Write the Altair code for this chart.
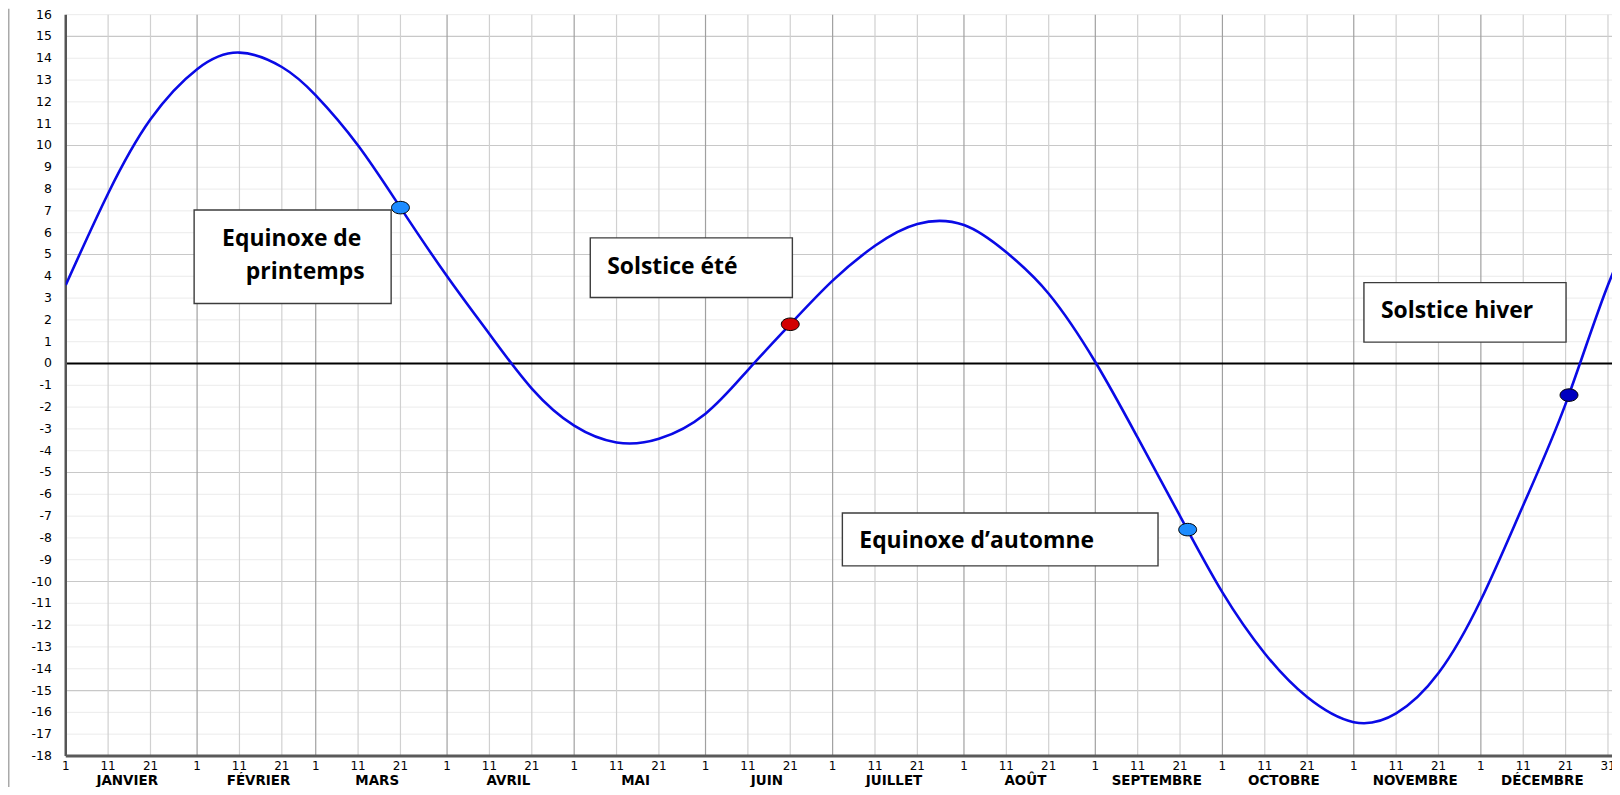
import altair as alt
import pandas as pd

# ---- data (values at the grid days) ----
# the last point continues the curve past 31 Dec (clipped at the right edge)
curve_days = [0, 10, 20, 31, 41, 51, 59, 69, 79, 90, 100, 110, 120, 130, 140, 151,
              161, 171, 181, 191, 201, 212, 222, 232, 243, 253, 263, 273,
              283, 293, 304, 314, 324, 334, 344, 354, 364, 374]
curve_values = [3.6, 7.8, 11.2, 13.5, 14.26, 13.6, 12.3, 10.0, 7.15, 4.0, 1.35, -1.15,
                -2.85, -3.62, -3.45, -2.3, -0.3, 1.8, 3.8, 5.4, 6.4, 6.35, 5.1,
                3.2, 0.07, -3.4, -7.0, -10.5, -13.3, -15.3, -16.45, -16.05,
                -14.2, -10.85, -6.5, -1.85, 3.6, 7.8]

month_names = ["JANVIER", "FÉVRIER", "MARS", "AVRIL", "MAI", "JUIN", "JUILLET",
               "AOÛT", "SEPTEMBRE", "OCTOBRE", "NOVEMBRE", "DÉCEMBRE"]
month_start = [0, 31, 59, 90, 120, 151, 181, 212, 243, 273, 304, 334]
day_marks = [1, 11, 21]
last_day = 364  # 31 décembre

event_days = [79, 171, 264.8, 354.8]
event_values = [7.15, 1.8, -7.62, -1.45]
event_colors = ["#1c8cff", "#d20000", "#1c8cff", "#0000c0"]

box_x1 = [30.3, 123.8, 183.3, 306.4]
box_x2 = [76.8, 171.5, 257.8, 354.1]
box_y1 = [7.04, 5.76, -6.86, 3.71]
box_y2 = [2.75, 3.03, -9.28, 0.98]

label_text = ["Equinoxe de", "printemps", "Solstice été", "Equinoxe d’automne", "Solstice hiver"]
label_x = [36.9, 42.5, 127.8, 187.3, 310.4]
label_y = [5.40, 3.89, 4.12, -8.46, 2.07]

y_ticks = list(range(-18, 17))

# ---- layout ----
W, H = 1553, 744.5
XMAX = 364.95
xs = alt.Scale(domain=[0, XMAX], nice=False, zero=False)
ys = alt.Scale(domain=[-18, 16], nice=False, zero=False)


def X(f):
    return alt.X(f, type="quantitative", scale=xs, axis=None)


def Y(f):
    return alt.Y(f, type="quantitative", scale=ys, axis=None)


curve_df = pd.DataFrame({"d": curve_days, "v": curve_values})
ev_df = pd.DataFrame({"d": event_days, "v": event_values, "col": event_colors})
box_df = pd.DataFrame({"x1": box_x1, "x2": box_x2, "y1": box_y1, "y2": box_y2})
lab_df = pd.DataFrame({"d": label_x, "v": label_y, "t": label_text})

minor_h = pd.DataFrame({"v": [v for v in y_ticks if v % 5 != 0]})
major_h = pd.DataFrame({"v": [v for v in y_ticks if v % 5 == 0 and v not in (0, -18)]})
month_v = pd.DataFrame({"d": month_start[1:]})
sub_days = [s + m - 1 for s in month_start for m in day_marks[1:]] + [last_day]
sub_v = pd.DataFrame({"d": sub_days})

tick_d = [s + m - 1 for s in month_start for m in day_marks] + [last_day]
tick_l = [str(m) for s in month_start for m in day_marks] + ["31"]
tick_df = pd.DataFrame({"d": tick_d, "t": tick_l})
mon_df = pd.DataFrame({"d": [s + 14.5 for s in month_start], "t": month_names})
ylab_df = pd.DataFrame({"v": y_ticks, "t": [str(v) for v in y_ticks]})

layers = []
layers.append(alt.Chart(minor_h).mark_rule(color="#ebebeb", strokeWidth=1).encode(y=Y("v")))
layers.append(alt.Chart(major_h).mark_rule(color="#c8c8c8", strokeWidth=1.2).encode(y=Y("v")))
layers.append(alt.Chart(sub_v).mark_rule(color="#d0d0d0", strokeWidth=1.2).encode(x=X("d")))
layers.append(alt.Chart(month_v).mark_rule(color="#a0a0a0", strokeWidth=1.2).encode(x=X("d")))
layers.append(alt.Chart(pd.DataFrame({"v": [0]})).mark_rule(color="#000000", strokeWidth=2).encode(y=Y("v")))
layers.append(alt.Chart(pd.DataFrame({"d": [0]})).mark_rule(color="#555555", strokeWidth=2.5).encode(x=X("d")))
layers.append(alt.Chart(pd.DataFrame({"v": [-18]})).mark_rule(color="#5a5a5a", strokeWidth=3).encode(y=Y("v")))

# frame line at the far left
layers.append(alt.Chart(pd.DataFrame({"d": [0]})).mark_rule(color="#a9a9a9", strokeWidth=2).encode(
    x=alt.value(-57.5), y=alt.value(-6), y2=alt.value(776)))

# annotation boxes
layers.append(alt.Chart(box_df).mark_rect(fill="white", stroke="#3c3c3c", strokeWidth=1.4).encode(
    x=X("x1"), x2="x2", y=Y("y1"), y2="y2"))
layers.append(alt.Chart(lab_df).mark_text(font="Open Sans", fontWeight="bold", fontSize=23,
                                          align="left", baseline="alphabetic", color="#000000").encode(
    x=X("d"), y=Y("v"), text="t:N"))

# curve
layers.append(alt.Chart(curve_df).mark_line(interpolate="natural", color="#0a0ae6",
                                            strokeWidth=2.6, clip=True).encode(x=X("d"), y=Y("v")))

# event markers (ellipses)
ellipse = "M-1,0A1,0.7,0,1,1,1,0A1,0.7,0,1,1,-1,0Z"
layers.append(alt.Chart(ev_df).mark_point(shape=ellipse, filled=True, size=324, opacity=1,
                                          stroke="#000000", strokeWidth=1).encode(
    x=X("d"), y=Y("v"), fill=alt.Fill("col:N", scale=None)))

# axis labels
layers.append(alt.Chart(ylab_df).mark_text(font="DejaVu Sans", fontSize=12.5, align="right",
                                           baseline="middle", color="#000000").encode(
    x=alt.value(-14), y=Y("v"), text="t:N"))
layers.append(alt.Chart(tick_df).mark_text(font="DejaVu Sans", fontSize=12, align="center",
                                           baseline="alphabetic", color="#000000").encode(
    x=X("d"), y=alt.value(758.5), text="t:N"))
layers.append(alt.Chart(mon_df).mark_text(font="DejaVu Sans", fontWeight="bold", fontSize=13.5,
                                          align="center", baseline="alphabetic", color="#000000").encode(
    x=X("d"), y=alt.value(773.5), text="t:N"))

chart = alt.layer(*layers).properties(
    width=W, height=H,
    autosize=alt.AutoSizeParams(type="none"),
    padding={"left": 58, "top": 5, "right": 0, "bottom": 29},
).configure_view(stroke=None)

chart.save("out.html", embed_options={"renderer": "svg", "actions": False})
